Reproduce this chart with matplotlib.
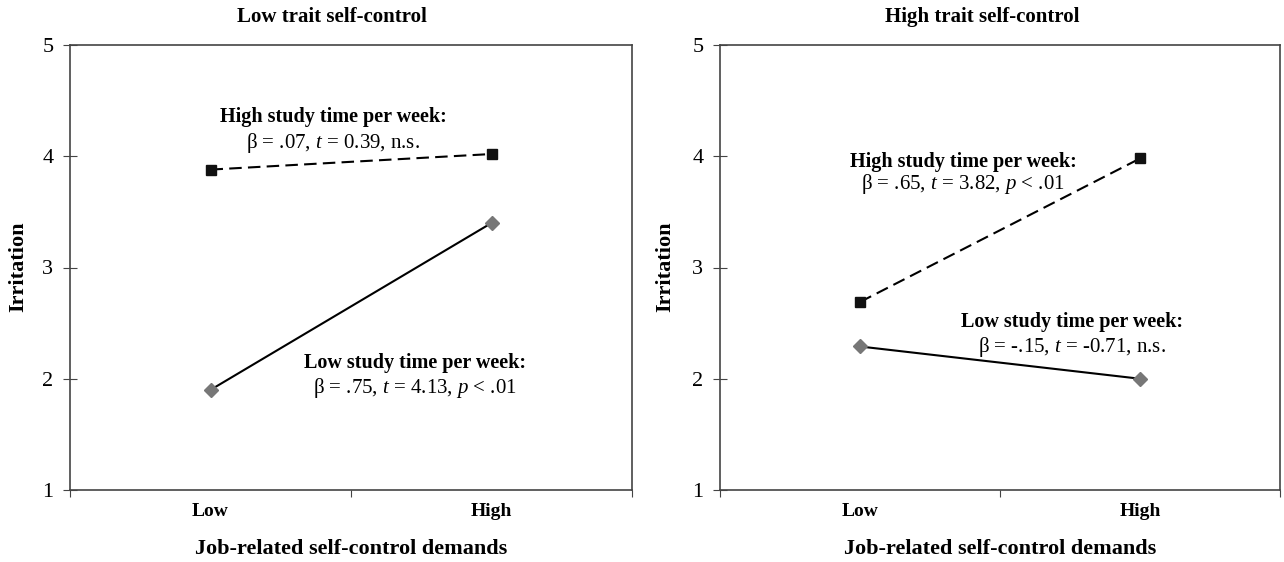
import matplotlib
matplotlib.use("Agg")
import matplotlib.pyplot as plt

plt.rcParams['font.family'] = ['Liberation Serif', 'DejaVu Serif']
plt.rcParams['mathtext.fontset'] = 'custom'
plt.rcParams['mathtext.rm'] = 'Liberation Serif'
plt.rcParams['mathtext.it'] = 'Liberation Serif:italic'

categories = ["Low", "High"]
panel_titles = ["Low trait self-control", "High trait self-control"]
high_study = [[3.88, 4.02], [2.69, 3.98]]
low_study = [[1.90, 3.40], [2.29, 2.00]]
y_ticks = [1, 2, 3, 4, 5]
high_labels = [r"β = .07, $t$ = 0.39, n.s.", r"β = .65, $t$ = 3.82, $p$ < .01"]
low_labels = [r"β = .75, $t$ = 4.13, $p$ < .01", r"β = -.15, $t$ = -0.71, n.s."]

fig = plt.figure(figsize=(12.84, 5.62), dpi=100)
W, H = 1284, 562
axes_px = [(70, 632), (720, 1280)]
top_px, bot_px = 45, 490

# annotation positions (data coords) per panel: (x, y_title, y_beta)
high_pos = [(0.936, 4.35, 4.12), (0.868, 3.95, 3.75)]
low_pos = [(1.228, 2.14, 1.92), (1.257, 2.51, 2.285)]
title_x = [332, 982]
ylabel_x = [18, 665]

for i in range(2):
    l, r = axes_px[i]
    ax = fig.add_axes([l / W, 1 - bot_px / H, (r - l) / W, (bot_px - top_px) / H])
    x = [0.5, 1.5]
    ax.plot(x, high_study[i], color='black', lw=1.5, ls=(0, (6, 3)),
            marker='s', ms=7, mfc='#111111', mec='#111111')
    ax.plot(x, low_study[i], color='black', lw=1.5, ls='-',
            marker='D', ms=7, mfc='#777777', mec='#777777')
    ax.set_xlim(0, 2)
    ax.set_ylim(1, 5)
    ax.set_yticks(y_ticks)
    ax.set_yticklabels([str(v) for v in y_ticks], fontsize=16)
    ax.set_xticks([0, 1, 2])
    ax.set_xticklabels([])
    ax.set_xticks(x, minor=True)
    ax.set_xticklabels(categories, minor=True, fontsize=14, fontweight='bold')
    ax.tick_params(axis='x', which='minor', length=0, pad=9)
    ax.tick_params(axis='x', which='major', direction='out', length=5, color='#444444')
    ax.tick_params(axis='y', direction='inout', length=10, color='#444444', pad=7)
    for s in ax.spines.values():
        s.set_color('#444444')
        s.set_linewidth(1.2)
    ax.set_xlabel("Job-related self-control demands", fontsize=16, fontweight='bold', labelpad=14)
    ax.text(high_pos[i][0], high_pos[i][1], "High study time per week:", ha='center', va='center',
            fontsize=14.5, fontweight='bold')
    ax.text(high_pos[i][0], high_pos[i][2], high_labels[i], ha='center', va='center', fontsize=15)
    ax.text(low_pos[i][0], low_pos[i][1], "Low study time per week:", ha='center', va='center',
            fontsize=14.5, fontweight='bold')
    ax.text(low_pos[i][0], low_pos[i][2], low_labels[i], ha='center', va='center', fontsize=15)
    fig.text(title_x[i] / W, 1 - 17 / H, panel_titles[i], ha='center', va='center',
             fontsize=15, fontweight='bold')
    fig.text(ylabel_x[i] / W, 1 - 267 / H, "Irritation", ha='center', va='center',
             rotation=90, fontsize=16, fontweight='bold')

fig.savefig("out.png", dpi=100)
